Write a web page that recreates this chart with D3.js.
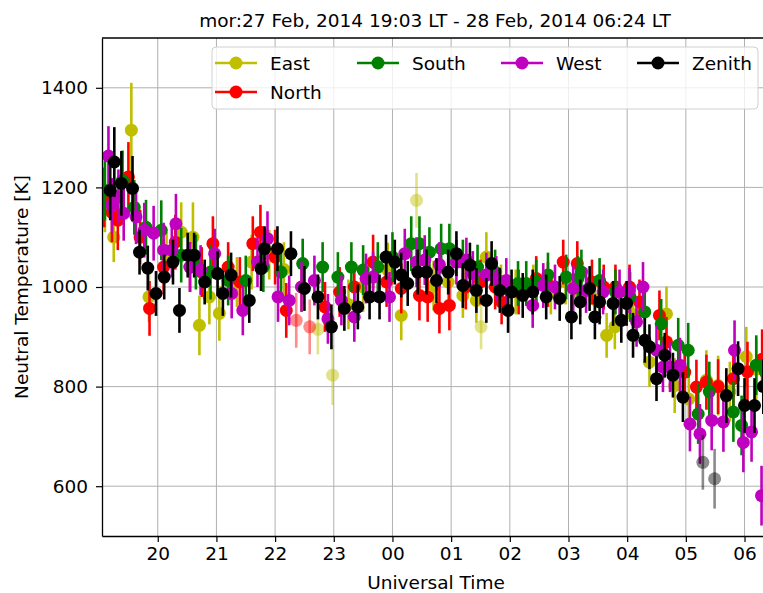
<!DOCTYPE html>
<html><head><meta charset="utf-8">
<script src="https://cdn.jsdelivr.net/npm/d3@7"></script>
<style>body{margin:0;background:#fff;overflow:hidden} text{font-family:"DejaVu Sans",sans-serif}</style>
</head><body><svg id="c" width="763" height="593"></svg>
<script>
const title = "mor:27 Feb, 2014 19:03 LT - 28 Feb, 2014 06:24 LT";
const xTicks = [20,21,22,23,24,25,26,27,28,29,30];
const yTicks = [600,800,1000,1200,1400];
const seriesNames = ["East","North","South","West","Zenith"];
const seriesColors = ["#bfbf00","#ff0000","#008000","#bf00bf","#000000"];

// East
const eastT = [19.10,19.25,19.55,19.85,20.15,20.40,20.60,20.71,20.88,21.05,21.35,21.60,21.90,22.15,22.45,22.73,22.98,23.25,23.50,23.92,24.15,24.41,24.70,24.95,25.20,25.43,25.51,25.60,25.85,26.10,26.40,26.70,26.95,27.20,27.45,27.65,27.79,28.10,28.38,28.67,28.81,29.05,29.35,29.55,29.75,30.03,30.20,30.38];
const eastV = [1160,1100,1315,980,1060,1110,1100,923,980,947,1010,1050,1065,1035,1000,915,823,965,1000,1034,943,1174,1003,1010,983,973,920,1060,1000,990,1000,990,1010,985,975,903,920,945,849,946,802,775,813,802,790,860,835,825];
const eastE = [50,50,95,50,50,60,70,60,55,55,50,55,50,55,50,50,60,50,50,55,50,55,50,45,45,45,45,50,45,45,45,45,45,45,45,45,45,50,50,55,55,60,60,60,60,60,60,60];
const eastF = [0,0,0,0,0,0,0,0,0,0,0,0,0,0,0,1,1,0,0,0,0,1,0,0,0,0,1,0,0,0,0,0,0,0,0,0,0,0,0,0,0,0,0,0,0,0,0,0];

// North
const northT = [19.09,19.22,19.32,19.50,19.70,19.86,20.10,20.30,20.55,20.75,20.94,21.20,21.40,21.62,21.75,22.00,22.19,22.36,22.59,22.85,23.10,23.35,23.67,23.90,24.15,24.46,24.60,24.80,24.97,25.25,25.50,25.75,25.86,26.15,26.45,26.65,26.91,27.15,27.40,27.60,27.80,28.04,28.21,28.55,28.67,28.98,29.18,29.35,29.55,29.81,30.05,30.30];
const northV = [1180,1150,1134,1221,1100,957,1040,1090,1040,1030,1087,1040,1010,1087,1110,1060,953,933,920,960,990,1000,1050,1010,997,983,980,957,963,1000,1010,1000,970,990,1017,1005,1050,1047,1010,1000,1000,1000,970,943,890,829,799,809,800,816,830,855];
const northE = [60,60,60,70,55,55,55,55,50,50,55,50,50,55,55,55,55,55,55,50,50,50,55,50,50,50,50,50,50,45,45,45,45,45,45,45,45,45,45,45,45,45,45,50,50,55,55,55,55,60,60,60];
const northF = [0,0,0,0,0,0,0,0,0,0,0,0,0,0,0,0,0,1,1,0,0,0,0,0,0,0,0,0,0,0,0,0,0,0,0,0,0,0,0,0,0,0,0,0,0,0,0,0,0,0,0,0];

// South
const southT = [19.10,19.40,19.60,19.80,20.06,20.40,20.65,20.90,21.20,21.50,21.80,22.10,22.47,22.81,23.07,23.30,23.50,23.75,24.00,24.32,24.46,24.63,24.83,24.97,25.20,25.45,25.75,26.14,26.28,26.45,26.65,26.96,27.16,27.22,27.53,27.80,28.05,28.30,28.58,28.87,29.04,29.21,29.40,29.81,29.95,30.20,30.35];
const southV = [1194,1214,1160,1120,1114,1064,1050,1030,1013,1013,1040,1030,1047,1040,1020,1040,1034,1040,1060,1087,1087,1070,1077,1077,1050,1040,1030,1007,1007,1010,1024,1020,1017,1030,1013,990,980,950,926,883,873,745,790,749,722,843,830];
const southE = [60,60,55,55,60,55,55,55,50,50,50,50,50,50,50,50,50,50,50,55,55,50,50,50,45,45,45,45,45,45,45,45,45,45,45,45,50,50,50,55,55,60,60,60,60,60,60];
const southF = southT.map(() => 0);

// West
const westT = [19.16,19.22,19.33,19.42,19.63,19.77,19.93,20.10,20.24,20.31,20.55,20.73,20.97,21.26,21.45,21.70,21.87,22.05,22.24,22.45,22.67,22.90,23.13,23.35,23.55,23.67,23.95,24.21,24.41,24.55,24.80,25.09,25.26,25.37,25.60,25.77,25.94,26.39,26.57,26.77,27.08,27.30,27.59,27.87,28.04,28.16,28.27,28.50,28.61,28.73,28.90,29.07,29.24,29.44,29.64,29.83,29.98,30.12,30.29];
const westV = [1263,1164,1181,1148,1141,1114,1108,1074,1074,1127,1040,1034,1067,987,953,1050,1097,980,973,1000,1013,936,973,940,1017,1020,980,1067,1050,1054,1045,1050,1054,1027,1024,1017,1013,963,1003,1000,997,993,990,990,993,930,1000,873,839,839,843,725,705,732,729,873,688,709,581];
const westE = [60,55,55,55,55,55,55,55,55,60,50,50,50,50,50,50,55,50,50,50,50,50,50,50,50,50,50,50,50,50,45,45,45,45,45,45,45,45,45,45,45,45,45,45,45,50,50,50,50,50,55,55,60,60,60,60,60,60,60];
const westF = westT.map(() => 0);

// Zenith
const zenT = [19.19,19.26,19.38,19.57,19.69,19.83,19.97,20.11,20.26,20.37,20.51,20.62,20.80,21.02,21.11,21.25,21.56,21.76,21.82,22.04,22.27,22.50,22.73,22.96,23.18,23.41,23.61,23.78,23.89,24.04,24.15,24.26,24.43,24.58,24.75,24.95,25.09,25.20,25.32,25.43,25.60,25.69,25.83,25.97,26.03,26.22,26.39,26.62,26.85,27.05,27.20,27.36,27.45,27.53,27.76,27.90,27.99,28.10,28.30,28.38,28.50,28.64,28.78,28.95,29.29,29.49,29.69,29.89,30.00,30.17,30.32];
const zenV = [1194,1251,1208,1198,1070,1038,987,1020,1050,953,1064,1064,1010,1027,987,1024,973,1037,1077,1077,1067,997,980,920,957,960,980,980,1060,1050,1024,1007,1030,1030,1013,1030,1067,1003,1044,993,973,1047,993,953,990,983,990,980,977,940,970,997,940,970,967,933,967,903,893,880,816,863,823,779,648,615,782,836,762,762,800];
const zenE = [60,70,65,65,45,45,45,45,45,45,45,45,45,45,45,45,45,45,45,45,45,45,45,45,45,45,45,45,45,45,45,45,45,45,45,45,45,45,45,45,45,45,45,45,45,45,45,45,45,45,45,45,45,45,45,45,45,45,45,45,45,45,45,50,55,60,55,55,55,55,55];
const zenF = [0,0,0,0,0,0,0,0,0,0,0,0,0,0,0,0,0,0,0,0,0,0,0,0,0,0,0,0,0,0,0,0,0,0,0,0,0,0,0,0,0,0,0,0,0,0,0,0,0,0,0,0,0,0,0,0,0,0,0,0,0,0,0,0,1,1,0,0,0,0,0];

const allT = [eastT,northT,southT,westT,zenT];
const allV = [eastV,northV,southV,westV,zenV];
const allE = [eastE,northE,southE,westE,zenE];
const allF = [eastF,northF,southF,westF,zenF];

const FS = "18.5px";
const m = {l:102, t:38, r:768, b:536};
const svg = d3.select("#c");
const x = d3.scaleLinear().domain([19.05, 30.4]).range([m.l, m.r]);
const y = d3.scaleLinear().domain([500, 1500]).range([m.b, m.t]);

svg.append("defs").append("clipPath").attr("id","clip")
  .append("rect").attr("x",m.l).attr("y",m.t).attr("width",m.r-m.l).attr("height",m.b-m.t);

// grid
const grid = svg.append("g").attr("stroke","#b0b0b0").attr("stroke-width",1);
xTicks.forEach(t => grid.append("line").attr("x1",x(t)).attr("x2",x(t)).attr("y1",m.t).attr("y2",m.b));
yTicks.forEach(v => grid.append("line").attr("x1",m.l).attr("x2",m.r).attr("y1",y(v)).attr("y2",y(v)));

// data
const plot = svg.append("g").attr("clip-path","url(#clip)");
seriesNames.forEach((name, si) => {
  const g = plot.append("g");
  const col = seriesColors[si];
  const pts = allT[si].map((t,i) => ({t, v: allV[si][i], e: allE[si][i], f: allF[si][i]}));
  pts.forEach(p => {
    const op = p.f ? 0.45 : 1;
    g.append("line").attr("x1",x(p.t)).attr("x2",x(p.t))
      .attr("y1",y(p.v - p.e)).attr("y2",y(p.v + p.e))
      .attr("stroke",col).attr("stroke-width",2.6).attr("opacity",op);
    g.append("circle").attr("cx",x(p.t)).attr("cy",y(p.v)).attr("r",6.5)
      .attr("fill",col).attr("opacity",op);
  });
});

// axes
const xAxis = d3.axisBottom(x).tickValues(xTicks).tickSize(6).tickSizeOuter(0).tickPadding(5)
  .tickFormat(d => d3.format("02d")(d % 24));
const gx = svg.append("g").attr("transform",`translate(0,${m.b})`).call(xAxis);
const yAxis = d3.axisLeft(y).tickValues(yTicks).tickSize(6).tickSizeOuter(0).tickPadding(8)
  .tickFormat(d3.format("d"));
const gy = svg.append("g").attr("transform",`translate(${m.l},0)`).call(yAxis);
[gx,gy].forEach(g => {
  g.select(".domain").attr("stroke","#000").attr("stroke-width",1.3);
  g.selectAll(".tick line").attr("stroke","#000").attr("stroke-width",1.2);
  g.selectAll(".tick text").attr("fill","#000").style("font-size",FS).style("font-family","DejaVu Sans");
});
svg.append("line").attr("x1",m.l).attr("x2",m.r).attr("y1",m.t).attr("y2",m.t).attr("stroke","#000").attr("stroke-width",1.3);

// labels
svg.append("text").attr("x",(m.l+m.r)/2).attr("y",27).attr("text-anchor","middle")
  .style("font-size",FS).text(title);
svg.append("text").attr("x",436).attr("y",589).attr("text-anchor","middle")
  .style("font-size",FS).text("Universal Time");
svg.append("text").attr("transform","translate(28,287) rotate(-90)").attr("text-anchor","middle")
  .style("font-size",FS).text("Neutral Temperature [K]");

// legend
const lg = svg.append("g");
lg.append("rect").attr("x",212).attr("y",47).attr("width",546).attr("height",62).attr("rx",4)
  .attr("fill","#fff").attr("fill-opacity",0.8).attr("stroke","#d0d0d0").attr("stroke-width",1);
const legPos = [[236,63],[236,92],[378,63],[522,63],[658,63]];
seriesNames.forEach((name, si) => {
  const [cx, cy] = legPos[si];
  lg.append("line").attr("x1",cx-21).attr("x2",cx+21).attr("y1",cy).attr("y2",cy)
    .attr("stroke",seriesColors[si]).attr("stroke-width",2.6);
  lg.append("circle").attr("cx",cx).attr("cy",cy).attr("r",6.5).attr("fill",seriesColors[si]);
  lg.append("text").attr("x",cx+34).attr("y",cy+6.5).style("font-size",FS).attr("fill","#000").text(name);
});
</script></body></html>
